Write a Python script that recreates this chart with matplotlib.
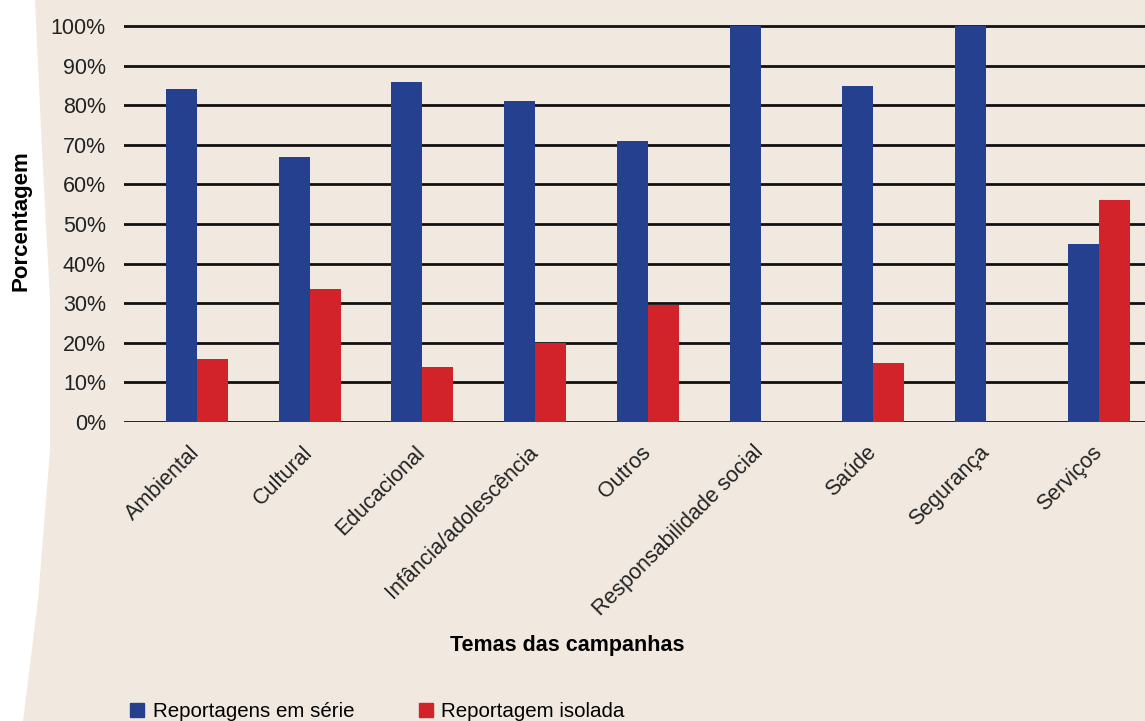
import numpy as np
import matplotlib.pyplot as plt
from matplotlib.patches import Polygon, Patch

temas = ['Ambiental', 'Cultural', 'Educacional', 'Infância/adolescência', 'Outros',
         'Responsabilidade social', 'Saúde', 'Segurança', 'Serviços']
serie = [84, 67, 86, 81, 71, 100, 85, 100, 45]
isolada = [16, 33.5, 14, 20, 29.5, 0, 15, 0, 56]
yticks = [0, 10, 20, 30, 40, 50, 60, 70, 80, 90, 100]

blue = '#25408E'
red = '#D2232A'
bg = '#F1E9DF'

plt.rcParams['font.family'] = ['Liberation Sans', 'DejaVu Sans']

fig = plt.figure(figsize=(11.45, 7.21), dpi=100, facecolor=bg)

# white curved edge on the left
edge = [(0, 1), (35 / 1145, 1), (42 / 1145, 1 - 150 / 721), (50 / 1145, 1 - 300 / 721),
        (50 / 1145, 1 - 450 / 721), (38 / 1145, 1 - 600 / 721), (23 / 1145, 0), (0, 0)]
fig.patches.append(Polygon(edge, closed=True, transform=fig.transFigure,
                           facecolor='white', edgecolor='none', zorder=0))

ax = fig.add_axes([124 / 1145, 1 - 422 / 721, 1 - 124 / 1145, 422 / 721])
ax.set_facecolor('none')

x = np.arange(len(temas))
w = 0.275
ax.bar(x - w / 2, serie, w, color=blue, zorder=3)
ax.bar(x + w / 2, isolada, w, color=red, zorder=3)

ax.set_xlim(-0.648, 8.41)
ax.set_ylim(0, 106.6)
ax.set_yticks(yticks)
ax.set_yticklabels([f'{v}%' for v in yticks], fontsize=15.5, color='#222')
ax.yaxis.grid(True, color='#111', linewidth=2)
ax.set_axisbelow(True)
ax.tick_params(axis='y', length=0, pad=13)
ax.tick_params(axis='x', length=0, pad=19.5)
for s in ax.spines.values():
    s.set_visible(False)

ax.set_xticks(x)
ax.set_xticklabels(temas, rotation=45, ha='right', va='center', rotation_mode='anchor',
                   fontsize=15.5, color='#222')

fig.text(567 / 1145, 1 - 646 / 721, 'Temas das campanhas', ha='center', va='center',
         fontsize=15.5, fontweight='bold')
fig.text(21 / 1145, 1 - 221 / 721, 'Porcentagem', ha='center', va='center',
         rotation=90, fontsize=16, fontweight='bold')

handles = [Patch(color=blue, label='Reportagens em série'),
           Patch(color=red, label='Reportagem isolada')]
fig.legend(handles=handles, loc='upper left', bbox_to_anchor=(130 / 1145, 1 - 702 / 721),
           ncol=2, frameon=False, fontsize=14.8, handlelength=0.7, handleheight=0.7,
           handletextpad=0.4, columnspacing=3.15, borderpad=0, borderaxespad=0)

fig.savefig('out.png', dpi=100, facecolor=bg)
